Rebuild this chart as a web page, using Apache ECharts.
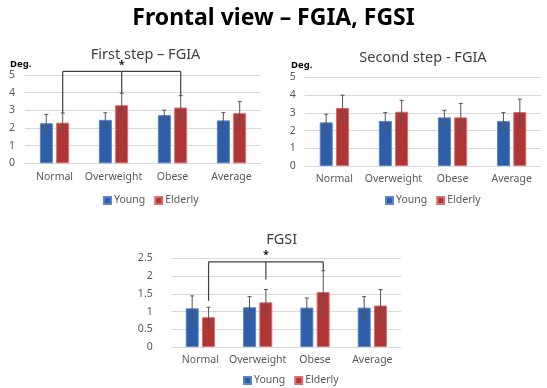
<!DOCTYPE html>
<html>
<head>
<meta charset="utf-8">
<script src="https://cdn.jsdelivr.net/npm/echarts@6/dist/echarts.min.js"></script>
<style>
html,body{margin:0;padding:0;background:#fff;}
#c{width:547px;height:388px;}
</style>
</head>
<body>
<div id="c"></div>
<script>
// ---------- data ----------
const categories = ['Normal', 'Overweight', 'Obese', 'Average'];
const seriesNames = ['Young', 'Elderly'];

// First step – FGIA
const fs_young = [2.27, 2.46, 2.73, 2.43];
const fs_youngErr = [0.50, 0.40, 0.28, 0.44];
const fs_elderly = [2.30, 3.29, 3.16, 2.84];
const fs_elderlyErr = [0.55, 0.68, 0.67, 0.65];

// Second step - FGIA
const ss_young = [2.46, 2.54, 2.74, 2.54];
const ss_youngErr = [0.46, 0.47, 0.40, 0.47];
const ss_elderly = [3.27, 3.06, 2.74, 3.04];
const ss_elderlyErr = [0.72, 0.64, 0.79, 0.73];

// FGSI
const fgsi_young = [1.09, 1.12, 1.11, 1.11];
const fgsi_youngErr = [0.35, 0.30, 0.27, 0.31];
const fgsi_elderly = [0.84, 1.26, 1.55, 1.17];
const fgsi_elderlyErr = [0.28, 0.36, 0.60, 0.45];

// significance brackets (elderly bars): [fromCat, midCat, toCat], bracket level, leg ends
const fs_bracketCats = [0, 1, 2];
const fs_bracketLevel = 5.2;
const fs_bracketEnds = [2.85, 3.97, 3.84];
const fgsi_bracketCats = [0, 1, 2];
const fgsi_bracketLevel = 2.4;
const fgsi_bracketEnds = [1.3, 1.9, 2.16];

// ---------- styles ----------
const FONT = 'Noto Sans';
const BLUE = '#2f5ea8';
const BLUE_B = '#5a86c8';
const RED = '#b03636';
const RED_B = '#d87070';
const TXT = '#595959';
const GRID = '#d9d9d9';
const BAR_W = 13;
const OFF = 8.2;

const grids = [
  {left: 25, right: 286, top: 75, bottom: 224.7},
  {left: 304.8, right: 5.8, top: 77.3, bottom: 222},
  {left: 171.7, right: 146, top: 258.3, bottom: 41}
];

function xAxis(i) {
  return {
    type: 'category', gridIndex: i, data: categories,
    axisTick: {show: false},
    axisLine: {lineStyle: {color: GRID}},
    axisLabel: {color: TXT, fontSize: 10.5, fontFamily: FONT, margin: 8, interval: 0}
  };
}
function yAxis(i, max, interval, margin) {
  return {
    type: 'value', gridIndex: i, min: 0, max: max, interval: interval,
    axisLine: {show: false}, axisTick: {show: false},
    splitLine: {lineStyle: {color: GRID}},
    axisLabel: {color: TXT, fontSize: 10.5, fontFamily: FONT, margin: margin}
  };
}
function bar(i, name, vals, color, border) {
  return {
    type: 'bar', name: name, xAxisIndex: i, yAxisIndex: i, data: vals,
    barWidth: BAR_W, barGap: '25%',
    itemStyle: {color: color, borderColor: border, borderWidth: 1},
    emphasis: {disabled: true}
  };
}
function errSeries(i, name, vals, errs, off) {
  return {
    type: 'custom', name: name, xAxisIndex: i, yAxisIndex: i, z: 5,
    silent: true,
    data: vals.map((v, k) => [k, v, errs[k]]),
    encode: {x: 0, y: 1},
    renderItem: function (params, api) {
      const x = api.value(0), v = api.value(1), e = api.value(2);
      const hi = api.coord([x, v + e]);
      const lo = api.coord([x, v - e]);
      const cx = hi[0] + off;
      const st = {stroke: '#555555', lineWidth: 1};
      return {type: 'group', children: [
        {type: 'line', shape: {x1: cx, y1: hi[1], x2: cx, y2: lo[1]}, style: st},
        {type: 'line', shape: {x1: cx - 2, y1: hi[1], x2: cx + 2, y2: hi[1]}, style: st},
        {type: 'line', shape: {x1: cx - 2, y1: lo[1], x2: cx + 2, y2: lo[1]}, style: st}
      ]};
    }
  };
}
function bracketSeries(i, cats, level, ends) {
  return {
    type: 'custom', xAxisIndex: i, yAxisIndex: i, z: 6, silent: true,
    data: [[cats[0], level]],
    encode: {x: 0, y: 1},
    renderItem: function (params, api) {
      const st = {stroke: '#404040', lineWidth: 1.2};
      const pts = cats.map((c, k) => [api.coord([c, level]), api.coord([c, ends[k]])]);
      const children = [];
      const a = pts[0][0], b = pts[2][0];
      children.push({type: 'line', shape: {x1: a[0] + OFF, y1: a[1], x2: b[0] + OFF, y2: b[1]}, style: st});
      pts.forEach(p => {
        children.push({type: 'line', shape: {x1: p[0][0] + OFF, y1: p[0][1], x2: p[1][0] + OFF, y2: p[1][1]}, style: st});
      });
      children.push({type: 'text', style: {text: '*', x: pts[1][0][0] + OFF, y: pts[1][0][1] - 1,
        align: 'center', verticalAlign: 'bottom', fontSize: 11, fontFamily: FONT, fontWeight: 'bold', fill: '#222'}});
      return {type: 'group', children: children};
    }
  };
}
function legend(left, top) {
  return {
    left: left, top: top, itemWidth: 7, itemHeight: 7, itemGap: 9, icon: 'rect',
    data: seriesNames,
    textStyle: {color: TXT, fontSize: 10.5, fontFamily: FONT, padding: [0, 0, 0, -2]}
  };
}

const option = {
  animation: false,
  color: [BLUE, RED],
  title: [
    {text: 'Frontal view – FGIA, FGSI', left: 'center', top: 2,
      textStyle: {fontFamily: FONT, fontWeight: 'bold', fontSize: 23, color: '#000'}},
    {text: 'First step – FGIA', left: 140.6, textAlign: 'center', top: 42,
      textStyle: {fontFamily: FONT, fontWeight: 'normal', fontSize: 14.5, color: '#404040'}},
    {text: 'Second step - FGIA', left: 418, textAlign: 'center', top: 45,
      textStyle: {fontFamily: FONT, fontWeight: 'normal', fontSize: 14.5, color: '#404040'}},
    {text: 'FGSI', left: 276.7, textAlign: 'center', top: 227,
      textStyle: {fontFamily: FONT, fontWeight: 'normal', fontSize: 14.5, color: '#404040'}},
    {text: 'Deg.', left: 5, top: 54,
      textStyle: {fontFamily: FONT, fontWeight: 'bold', fontSize: 9.5, color: '#000'}},
    {text: 'Deg.', left: 286, top: 55,
      textStyle: {fontFamily: FONT, fontWeight: 'bold', fontSize: 9.5, color: '#000'}}
  ],
  legend: [legend(98, 190), legend(380, 190), legend(238, 370)],
  grid: grids,
  xAxis: [xAxis(0), xAxis(1), xAxis(2)],
  yAxis: [yAxis(0, 5, 1, 10), yAxis(1, 5, 1, 9), yAxis(2, 2.5, 0.5, 19)],
  series: [
    bar(0, 'Young', fs_young, BLUE, BLUE_B),
    bar(0, 'Elderly', fs_elderly, RED, RED_B),
    errSeries(0, 'Young', fs_young, fs_youngErr, -OFF),
    errSeries(0, 'Elderly', fs_elderly, fs_elderlyErr, OFF),
    bracketSeries(0, fs_bracketCats, fs_bracketLevel, fs_bracketEnds),

    bar(1, 'Young', ss_young, BLUE, BLUE_B),
    bar(1, 'Elderly', ss_elderly, RED, RED_B),
    errSeries(1, 'Young', ss_young, ss_youngErr, -OFF),
    errSeries(1, 'Elderly', ss_elderly, ss_elderlyErr, OFF),

    bar(2, 'Young', fgsi_young, BLUE, BLUE_B),
    bar(2, 'Elderly', fgsi_elderly, RED, RED_B),
    errSeries(2, 'Young', fgsi_young, fgsi_youngErr, -OFF),
    errSeries(2, 'Elderly', fgsi_elderly, fgsi_elderlyErr, OFF),
    bracketSeries(2, fgsi_bracketCats, fgsi_bracketLevel, fgsi_bracketEnds)
  ]
};
const chart = echarts.init(document.getElementById('c'), null, {renderer: 'canvas'});
chart.setOption(option);
</script>
</body>
</html>
